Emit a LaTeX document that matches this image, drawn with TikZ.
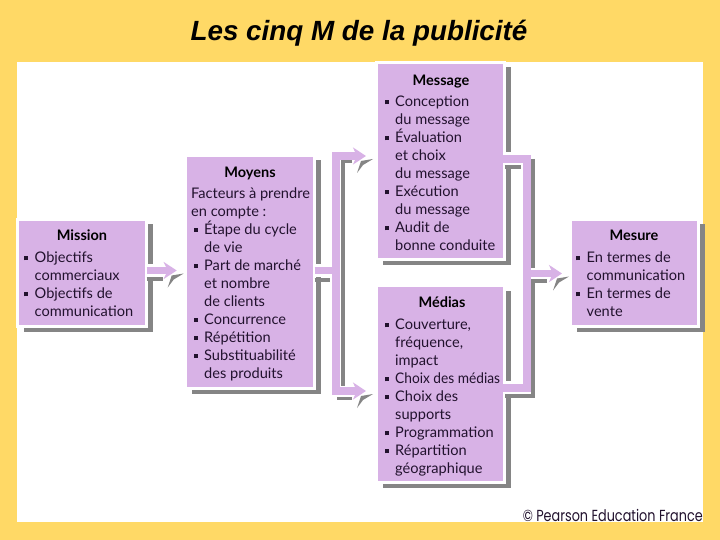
\documentclass[tikz,border=0pt]{standalone}
\usepackage{fontspec}
\usepackage{graphicx}
\setmainfont{Lato}
\newfontfamily\titlefont{Liberation Sans}
\newfontfamily\creditfont[FakeStretch=0.8]{Poppins}
\usetikzlibrary{arrows.meta,shadows,calc}
\definecolor{pageyellow}{HTML}{FFD966}
\definecolor{boxpurple}{HTML}{D8B2E6}
\definecolor{shadowgrey}{HTML}{858585}
\definecolor{inkdark}{HTML}{22122E}
\newcommand{\Bu}{\makebox[10.5pt][l]{\raisebox{2.5pt}{\rule{4pt}{4pt}}}}
\newcommand{\In}{\hspace*{10.5pt}}
\newcommand{\HeadShadow}[1]{\fill[shadowgrey] ($(#1)+(7,3)$) -- ($(#1)+(-5,5)$) -- ($(#1)+(-9,17)$) -- ($(#1)+(-3,9)$) -- cycle;}
\tikzset{
  box/.style={anchor=north west,fill=boxpurple,draw=white,line width=3pt,inner sep=0pt,outer sep=0pt,
    drop shadow={shadow xshift=6pt,shadow yshift=-5pt,fill=shadowgrey,opacity=1}},
  heading/.style={font=\fontsize{14.5pt}{18pt}\selectfont\bfseries,text=black,inner sep=0pt},
  body/.style={anchor=north west,align=left,inner sep=0pt,text=inkdark,
    font=\fontsize{14.6pt}{18pt}\selectfont},
  casing/.style={draw=white,line width=13pt},
  band/.style={draw=boxpurple,line width=7.5pt},
  arrowband/.style={band,-{Stealth[length=13pt,width=17pt,inset=4pt]}},
  greyline/.style={draw=shadowgrey,line width=4pt},
}
\begin{document}
\begin{tikzpicture}[x=1pt,y=-1pt]
\useasboundingbox (0,0) rectangle (720,540);
\fill[pageyellow] (0,0) rectangle (720,540);
\fill[white] (17,62) rectangle (703,522);
\node[font=\titlefont\fontsize{27.8pt}{32pt}\selectfont\bfseries\itshape,text=black,inner sep=0pt] (title) at (359,33) {Les cinq M de la publicité};

% boxes
\node[box,minimum width=129pt,minimum height=107pt] (mission) at (17.5,219.5) {};
\node[box,minimum width=129pt,minimum height=233pt] (moyens) at (185.5,155.5) {};
\node[box,minimum width=128pt,minimum height=197pt] (message) at (376.5,62.5) {};
\node[box,minimum width=128pt,minimum height=197pt] (medias) at (376.5,285.5) {};
\node[box,minimum width=128pt,minimum height=107pt] (mesure) at (570.5,219.5) {};

% connector anchors
\coordinate (t1) at (176.7,270.5);
\coordinate (t2) at (366,156);
\coordinate (t3) at (366,391);
\coordinate (t4) at (562,273.5);
\coordinate (busL) at (336,270.5);
\coordinate (busR) at (526.5,273.5);

% connector shadows
\draw[greyline] (mission.east |- 0,278.5) -- (163,278.5);
\draw[greyline] (moyens.east |- 0,280) -- (330,280);
\draw[greyline] (352,161.5) -- (343,161.5) -- (343,386);
\draw[greyline,line width=3pt] (337,398) -- (352,398);
\draw[greyline] (message.east |- 0,167) -- (521,167);
\draw[greyline] (532.5,159) -- (532.5,268);
\draw[greyline] (547,281) -- (532.5,281) -- (532.5,396) -- (medias.east |- 0,396);
\HeadShadow{t1}
\HeadShadow{t2}
\HeadShadow{t3}
\HeadShadow{t4}

% connectors
\draw[casing] (mission.east |- t1) -- (160,270.5);
\draw[casing] (moyens.east |- busL) -- (busL);
\draw[casing] (message.east |- 0,159) -- (522,159);
\draw[casing] (medias.east |- 0,387.5) -- (522,387.5);
\draw[casing,line width=11pt] (busR) -- (540,273.5);

\draw[arrowband,shorten >=8.8pt] (mission.east |- t1) -- (moyens.west |- t1);
\draw[band] (moyens.east |- busL) -- (busL);
\draw[arrowband,shorten >=10.5pt] (busL) -- (336,156) -- (message.west |- t2);
\draw[arrowband,shorten >=10.5pt] (busL) -- (336,391) -- (medias.west |- t3);
\draw[band,line width=8pt,line cap=rect] (message.east |- 0,159) -- (526.5,159) -- (busR);
\draw[band,line width=8pt,line cap=rect] (medias.east |- 0,387.5) -- (526.5,387.5) -- (busR);
\draw[arrowband,shorten >=8.5pt] (busR) -- (mesure.west |- t4);

% texts
\node[heading] (h1) at (82,235) {Mission};
\node[body] (b1) at (24,252) {\Bu Objectifs\\ \In commerciaux\\ \Bu Objectifs de\\ \In communication};
\node[heading] (h2) at (250,173) {Moyens};
\node[body] (b2a) at (191,188) {Facteurs à prendre\\ en compte :};
\node[body] (b2) at (193.5,221) {\Bu Étape du cycle\\ \In de vie\\ \Bu Part de marché\\ \In et nombre\\ \In de clients\\ \Bu Concurrence\\ \Bu Répétition\\ \Bu Substituabilité\\ \In des produits};
\node[heading] (h3) at (441,81.5) {Message};
\node[body] (b3) at (384.5,96) {\Bu Conception\\ \In du message\\ \Bu Évaluation\\ \In et choix\\ \In du message\\ \Bu Exécution\\ \In du message\\ \Bu Audit de\\ \In bonne conduite};
\node[heading] (h4) at (442,302) {Médias};
\node[body] (b4) at (384.5,319) {\Bu Couverture,\\ \In fréquence,\\ \In impact\\ \Bu \scalebox{0.94}[1]{Choix des médias}\\ \Bu Choix des\\ \In supports\\ \Bu Programmation\\ \Bu Répartition\\ \In géographique};
\node[heading] (h5) at (634,235) {Mesure};
\node[body] (b5) at (576,252) {\Bu En termes de\\ \In communication\\ \Bu En termes de\\ \In vente};
\node[anchor=base east,inner sep=0pt,text=inkdark,font=\creditfont\fontsize{16pt}{18pt}\selectfont] (credit) at (703,521) {© Pearson Education France};
\end{tikzpicture}
\end{document}
